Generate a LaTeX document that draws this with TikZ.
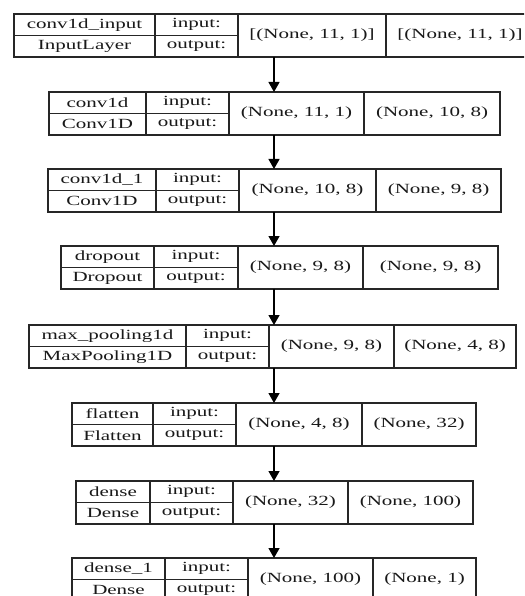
\documentclass[tikz,border=0pt]{standalone}
\usepackage{fontspec}
\setmainfont[FakeStretch=1.5]{Liberation Serif}
\usetikzlibrary{arrows.meta}

\tikzset{
  cell/.style={draw=black!85, line width=1.2pt, inner sep=0pt, outer sep=0pt,
    anchor=north west, font=\fontsize{14}{15}\selectfont, text=black!90},
  halfcell/.style={cell, minimum height=21.5pt},
  fullcell/.style={cell, minimum height=43pt},
  frame/.style={inner sep=0pt, outer sep=0pt, anchor=north west, minimum height=43pt},
  flow/.style={line width=1.3pt, draw=black, -{Triangle[length=10pt,width=11pt]}}
}

% column edges of one layer row: left / name|io / io|in-shape / in|out-shape / right
\def\krsplit#1/#2/#3/#4/#5\relax{\def\krA{#1}\def\krB{#2}\def\krC{#3}\def\krD{#4}\def\krE{#5}}

% #1 id, #2 top, #3 column edges, #4 layer name, #5 class, #6 input shape, #7 output shape
\newcommand\kerasrow[7]{%
  \krsplit#3\relax
  \node[frame, minimum width={(\krE-\krA)*1pt}] (#1) at (\krA,#2) {};
  \node[halfcell, minimum width={(\krB-\krA)*1pt}] (#1-name) at (\krA,#2) {#4};
  \node[halfcell, minimum width={(\krB-\krA)*1pt}] (#1-class) at (\krA,#2+21.5) {#5};
  \node[halfcell, minimum width={(\krC-\krB)*1pt}] (#1-inlbl) at (\krB,#2) {input:};
  \node[halfcell, minimum width={(\krC-\krB)*1pt}] (#1-outlbl) at (\krB,#2+21.5) {output:};
  \node[fullcell, minimum width={(\krD-\krC)*1pt}] (#1-inshape) at (\krC,#2) {#6};
  \node[fullcell, minimum width={(\krE-\krD)*1pt}] (#1-outshape) at (\krD,#2) {#7};
}

\begin{document}
\begin{tikzpicture}[x=1pt,y=-1pt]
  \useasboundingbox[fill=white] (0,0) rectangle (524,596);
  \clip (0,0) rectangle (524,596);

  \kerasrow{l1}{14}{14/155/238/386/534}{conv1d\_input}{InputLayer}{[(None, 11, 1)]}{[(None, 11, 1)]}
  \kerasrow{l2}{92}{49/146/229/364/500}{conv1d}{Conv1D}{(None, 11, 1)}{(None, 10, 8)}
  \kerasrow{l3}{169}{48/156/239/376/501}{conv1d\_1}{Conv1D}{(None, 10, 8)}{(None, 9, 8)}
  \kerasrow{l4}{246}{61/154/238/363/498}{dropout}{Dropout}{(None, 9, 8)}{(None, 9, 8)}
  \kerasrow{l5}{325}{29/186/269/394/516}{max\_pooling1d}{MaxPooling1D}{(None, 9, 8)}{(None, 4, 8)}
  \kerasrow{l6}{403}{72/153/236/362/476}{flatten}{Flatten}{(None, 4, 8)}{(None, 32)}
  \kerasrow{l7}{481}{76/150/233/348/473}{dense}{Dense}{(None, 32)}{(None, 100)}
  \kerasrow{l8}{558}{72/165/248/373/476}{dense\_1}{Dense}{(None, 100)}{(None, 1)}

  % vertical axis shared by all connectors
  \coordinate (axis) at (274,0);
  \foreach \a/\b in {l1/l2,l2/l3,l3/l4,l4/l5,l5/l6,l6/l7,l7/l8}
    \draw[flow] (\a.south -| axis) -- (\b.north -| axis);
\end{tikzpicture}
\end{document}
